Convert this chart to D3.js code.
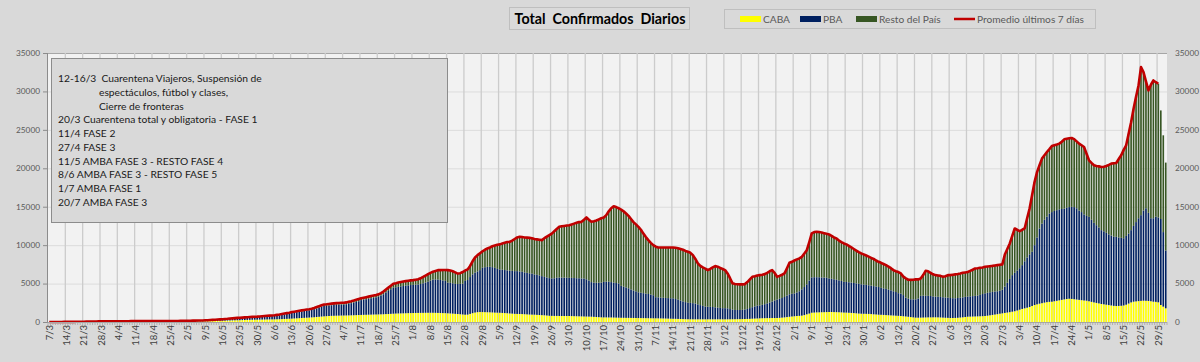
<!DOCTYPE html>
<html>
<head>
<meta charset="utf-8">
<script src="https://cdn.jsdelivr.net/npm/d3@7"></script>
<style>
  body { margin: 0; background: #d9d9d9; }
  svg { display: block; }
  text { font-family: Lato, "Open Sans", sans-serif; }
</style>
</head>
<body>
<div id="chart"></div>
<script>
// Casos diarios (promedio 7 días) desde el 7/3/2020, una semana por línea
var inicio = new Date(2020, 2, 7);

var caba = [
  1,1,2,2,3,4,5, 5,6,8,10,12,14,16, 18,20,22,25,27,30,32, 33,35,36,37,38,38,39,
  40,40,41,42,42,43,44, 44,44,45,45,46,46,47, 47,48,48,49,50,50,51, 52,54,56,58,60,63,66,
  70,74,78,82,86,90,95, 100,108,118,128,140,150,160, 170,180,190,200,210,220,230,
  240,250,260,270,280,290,300, 305,310,315,320,330,335,340, 345,355,365,380,395,410,425,
  440,460,480,500,520,540,560, 580,600,620,650,680,710,740, 760,780,800,810,820,830,840,
  845,850,860,870,880,895,910, 920,930,940,950,960,970,980, 990,1000,1010,1030,1040,1060,1080,
  1100,1110,1120,1130,1140,1150,1160, 1170,1175,1180,1185,1190,1195,1200,
  1200,1200,1190,1180,1170,1160,1150, 1130,1110,1090,1060,1040,1010,980,
  950,960,1050,1150,1230,1280,1300, 1290,1280,1270,1260,1240,1220,1210,
  1200,1180,1160,1140,1110,1090,1060, 1050,1040,1030,1010,990,970,960,
  950,930,910,890,870,840,810, 800,790,790,785,780,780,780,
  780,770,760,750,740,730,720, 710,700,690,670,650,630,610,
  600,600,590,590,580,570,560, 550,545,540,535,530,525,520,
  515,510,505,500,495,490,485, 480,475,470,460,450,440,430,
  420,410,400,390,380,370,360, 355,352,350,350,350,350,350,
  350,350,350,350,350,350,350, 350,350,355,360,365,370,375,
  380,390,400,410,430,450,460, 480,490,500,505,510,515,520,
  520,540,570,600,640,680,720, 750,780,800,830,900,1000,1100,
  1210,1230,1250,1260,1270,1280,1290, 1300,1300,1290,1280,1270,1250,1230,
  1220,1200,1180,1160,1130,1100,1080, 1070,1060,1050,1030,1000,980,950,
  940,920,900,880,860,840,820, 800,780,750,720,680,640,600,
  570,560,570,580,590,600,605, 610,610,600,590,570,550,540,
  520,520,530,550,580,610,650, 690,700,710,720,730,745,760,
  780,820,870,920,970,1020,1080, 1130,1180,1230,1280,1340,1400,1500,
  1600,1700,1780,1860,1950,2080,2210, 2300,2380,2450,2520,2580,2620,2640,
  2700,2760,2820,2880,2940,2990,3030, 3000,2960,2920,2880,2840,2800,2770,
  2700,2620,2550,2480,2420,2340,2300, 2250,2200,2150,2100,2080,2090,2110,
  2150,2250,2400,2550,2640,2680,2720, 2750,2770,2760,2740,2700,2640,2620,
  2560,2210,2000,1780
];

var pba = [
  1,1,1,2,2,3,3, 3,4,5,6,8,9,11, 12,14,16,18,20,22,24, 25,26,28,30,32,33,34,
  34,35,35,36,36,37,37, 37,37,38,38,38,39,39, 39,40,40,41,41,42,42, 43,45,47,49,52,55,58,
  60,62,64,66,68,70,72, 80,88,96,104,112,120,130, 150,165,180,200,215,230,250,
  260,270,280,290,300,310,320, 330,345,360,380,400,415,430, 460,490,520,560,600,640,680,
  740,770,800,830,860,890,920, 930,980,1050,1120,1200,1280,1340, 1340,1360,1380,1400,1410,1420,1430,
  1420,1460,1520,1580,1650,1720,1790, 1930,1980,2030,2080,2130,2180,2230, 2310,2440,2600,2800,3000,3200,3380,
  3420,3470,3510,3550,3590,3620,3650, 3660,3680,3700,3760,3850,3950,4050,
  4200,4320,4350,4340,4300,4250,4200, 4000,3980,3950,3900,3900,3950,4000,
  4400,4500,4800,5050,5200,5300,5450, 5760,5850,5900,5920,5900,5820,5700,
  5640,5620,5600,5580,5560,5560,5560, 5570,5540,5500,5450,5400,5370,5330,
  5240,5200,5150,5080,5000,4950,4900, 4870,4900,4960,5000,5000,4990,4980,
  4970,4970,4960,4950,4950,4940,4940, 4850,4700,4500,4450,4450,4480,4520,
  4620,4650,4650,4600,4550,4500,4450, 4150,4050,3960,3850,3700,3580,3470,
  3350,3300,3250,3200,3150,3080,3000, 2750,2730,2710,2690,2680,2670,2660,
  2660,2580,2500,2400,2300,2220,2150, 2130,2100,2050,1950,1850,1750,1660,
  1640,1620,1600,1560,1520,1480,1450, 1450,1430,1330,1250,1200,1190,1190,
  1210,1240,1300,1400,1500,1580,1660, 1680,1740,1820,1920,2030,2150,2280,
  2400,2480,2550,2650,2800,2920,2950, 2970,3070,3200,3420,3650,3900,4300,
  4590,4600,4580,4560,4530,4500,4460, 4370,4320,4270,4210,4150,4090,4000,
  3990,3970,3950,3920,3900,3870,3830, 3800,3770,3730,3700,3670,3640,3600,
  3500,3450,3400,3330,3260,3160,3080, 2950,2920,2750,2450,2350,2320,2340,
  2380,2500,2830,2850,2820,2800,2780, 2710,2690,2680,2670,2650,2640,2630,
  2600,2580,2560,2570,2580,2600,2620, 2620,2640,2660,2680,2700,2780,2880,
  2950,2980,3000,3000,2990,2980,2990, 3070,3420,3870,4320,4760,5000,5200,
  5400,5700,6120,6540,6850,7050,7790, 8700,9790,10350,10780,11120,11490,11660,
  11750,11790,11830,11820,11810,11860,11920, 11980,11990,11880,11620,11460,11200,11030,
  10980,10680,10350,10120,9880,9610,9500, 9350,9200,9100,9000,9000,8910,8840,
  8750,8950,9100,9400,9860,10320,10780, 11150,11730,12040,11460,10800,10860,11080,
  11040,11190,9700,7520
];

var resto = [
  0,0,1,1,1,1,2, 2,3,4,5,6,7,8, 10,12,14,16,18,20,22, 23,24,25,26,27,28,28,
  28,28,28,29,29,29,29, 29,29,28,28,28,27,27, 27,26,26,26,25,25,25, 25,26,27,28,29,30,31,
  30,31,32,33,34,35,36, 38,40,42,44,46,48,50, 45,45,45,48,50,52,55,
  55,55,58,60,62,65,68, 65,70,72,75,78,80,82, 80,85,90,95,100,105,110,
  110,115,120,125,130,135,140, 140,150,160,170,180,190,200, 200,205,210,215,220,225,230,
  235,240,250,260,270,285,300, 240,250,260,270,280,290,300, 300,320,350,390,430,470,520,
  530,550,570,580,590,600,610, 620,650,680,740,820,900,980,
  1000,1030,1110,1230,1280,1350,1410, 1620,1610,1560,1490,1360,1390,1520,
  1350,1380,1450,1700,1970,2120,2200, 2150,2270,2400,2520,2710,2910,3140,
  3260,3400,3540,3680,3760,3950,4180, 4380,4500,4520,4540,4590,4610,4610,
  4610,4620,4640,4680,5030,5310,5590, 5830,6110,6350,6595,6670,6730,6790,
  6850,6960,7080,7200,7310,7360,7640, 8040,7900,7860,7980,8100,8240,8370,
  8380,8650,9160,9610,9930,9880,9790, 9930,9805,9610,9415,9170,8895,8710,
  8515,8190,7745,7350,7005,6730,6515, 6570,6495,6520,6550,6570,6590,6610,
  6620,6660,6700,6710,6720,6660,6620, 6515,6248,5800,5320,5100,5000,4940,
  4760,4930,5150,5360,5330,5220,5100, 4950,4540,4015,3420,3385,3360,3335,
  3310,3300,3500,3740,3950,3920,3930, 3940,3920,3910,3975,4060,4085,3600,
  2960,2980,3030,3070,3560,4100,4160, 4280,4300,4270,4230,4350,4450,5000,
  5720,5870,5900,5880,5850,5780,5720, 5720,5580,5440,5380,5180,5060,4990,
  4890,4730,4570,4420,4270,4130,4010, 3930,3820,3720,3620,3530,3380,3280,
  3260,3180,3100,2990,2880,2750,2700, 2750,2620,2400,2500,2470,2520,2560,
  2600,2480,2270,2670,3250,3200,3015, 2880,2800,2770,2740,2660,2760,2930,
  2980,3050,3110,3130,3160,3190,3180, 3190,3310,3430,3570,3570,3525,3460,
  3450,3420,3390,3380,3390,3400,3380, 3300,4190,4400,4620,5100,5770,5300,
  4820,4600,4270,5100,5970,7370,8220, 8500,8230,8460,8400,8420,8390,8600,
  8550,8550,8560,8750,9020,9000,8950, 8960,8850,8700,8710,8700,8770,8100,
  7360,7400,7490,7700,7950,8220,8400, 8700,9050,9360,9550,9610,10200,10740,
  11500,11790,13000,14050,15250,16300,17280, 19260,18010,16500,15930,17370,17930,17500,
  17400,14130,12590,11440
];

// el promedio se publica hasta el 29/5
var diasPromedio = 449;

var yTicks = [0, 5000, 10000, 15000, 20000, 25000, 30000, 35000];

var series = ["caba", "pba", "resto"];
var nombres = ["CABA", "PBA", "Resto del País"];
var colores = ["#ffff00", "#002060", "#375623"];

var notas = [
  ["12-16/3  Cuarentena Viajeros, Suspensión de", 0],
  ["espectáculos, fútbol y clases,", 1],
  ["Cierre de fronteras", 1],
  ["20/3 Cuarentena total y obligatoria - FASE 1", 0],
  ["11/4 FASE 2", 0],
  ["27/4 FASE 3", 0],
  ["11/5 AMBA FASE 3 - RESTO FASE 4", 0],
  ["8/6 AMBA FASE 3 - RESTO FASE 5", 0],
  ["1/7 AMBA FASE 1", 0],
  ["20/7 AMBA FASE 3", 0]
];

var width = 1200, height = 362;
var xLeft = 48, xRight = 1167, yTop = 53, yBottom = 322;

var svg = d3.select("#chart").append("svg")
  .attr("width", width)
  .attr("height", height);

svg.append("rect").attr("width", width).attr("height", height).attr("fill", "#d9d9d9");

// tabla para d3.stack
var n = caba.length;
var tabla = d3.range(n).map(function(i) {
  return {i: i, fecha: d3.timeDay.offset(inicio, i), caba: caba[i], pba: pba[i], resto: resto[i]};
});

var x = d3.scaleBand()
  .domain(d3.range(n))
  .range([xLeft, xRight])
  .paddingInner(0.34)
  .paddingOuter(0.17);
var step = x.step();
function borde(i) { return x(i) - step * 0.17; }

var y = d3.scaleLinear().domain([0, 35000]).range([yBottom, yTop]);

// plot area
svg.append("rect")
  .attr("x", xLeft).attr("y", yTop)
  .attr("width", xRight - xLeft).attr("height", yBottom - yTop)
  .attr("fill", "#f2f2f2");

// horizontal grid
svg.append("g").selectAll("line")
  .data(yTicks.slice(1))
  .enter().append("line")
    .attr("x1", xLeft).attr("x2", xRight)
    .attr("y1", function(d) { return y(d) + 0.5; })
    .attr("y2", function(d) { return y(d) + 0.5; })
    .attr("stroke", function(d) { return d === 35000 ? "#a6a6a6" : "#dcdcdc"; })
    .attr("stroke-width", 1);

// vertical grid, one per week
var semanas = d3.range(0, n, 7);
svg.append("g").selectAll("line")
  .data(semanas.slice(1))
  .enter().append("line")
    .attr("x1", function(d) { return borde(d); })
    .attr("x2", function(d) { return borde(d); })
    .attr("y1", yTop).attr("y2", yBottom)
    .attr("stroke", "#cccccc")
    .attr("stroke-width", 1.3);

// stacked bars
var stack = d3.stack().keys(series)(tabla);
svg.append("g").selectAll("g")
  .data(stack)
  .enter().append("g")
    .attr("fill", function(d, k) { return colores[k]; })
  .selectAll("rect")
  .data(function(d) { return d; })
  .enter().append("rect")
    .attr("x", function(d) { return x(d.data.i); })
    .attr("width", x.bandwidth())
    .attr("y", function(d) { return y(d[1]); })
    .attr("height", function(d) { return Math.max(0, y(d[0]) - y(d[1])); });

// 7-day average line
var linea = d3.line()
  .x(function(d) { return x(d.i) + x.bandwidth() / 2; })
  .y(function(d) { return y(d.caba + d.pba + d.resto); });
svg.append("path")
  .datum(tabla.slice(0, diasPromedio))
  .attr("d", linea)
  .attr("fill", "none")
  .attr("stroke", "#c00000")
  .attr("stroke-width", 2.6)
  .attr("stroke-linejoin", "round");

// axes lines
svg.append("line")
  .attr("x1", xLeft - 0.5).attr("x2", xLeft - 0.5)
  .attr("y1", yTop).attr("y2", yBottom)
  .attr("stroke", "#8c8c8c");
svg.append("line")
  .attr("x1", xLeft).attr("x2", xRight)
  .attr("y1", yBottom + 0.5).attr("y2", yBottom + 0.5)
  .attr("stroke", "#a6a6a6");

// y ticks and labels, both sides
svg.append("g").selectAll("line")
  .data(yTicks)
  .enter().append("line")
    .attr("x1", xLeft - 5).attr("x2", xLeft)
    .attr("y1", function(d) { return y(d) + 0.5; })
    .attr("y2", function(d) { return y(d) + 0.5; })
    .attr("stroke", "#8c8c8c");

svg.append("g").selectAll("text")
  .data(yTicks)
  .enter().append("text")
    .attr("class", "ylab")
    .attr("x", 40)
    .attr("y", function(d) { return y(d); })
    .attr("dy", "0.35em")
    .attr("text-anchor", "end")
    .attr("fill", "#595959")
    .style("font-size", "9.5px")
    .text(function(d) { return d; });

svg.append("g").selectAll("text")
  .data(yTicks)
  .enter().append("text")
    .attr("class", "ylab")
    .attr("x", 1175)
    .attr("y", function(d) { return y(d); })
    .attr("dy", "0.35em")
    .attr("text-anchor", "start")
    .attr("fill", "#595959")
    .style("font-size", "9.5px")
    .text(function(d) { return d; });

// x ticks: small ones per day, labels per week
svg.append("g").selectAll("line")
  .data(d3.range(n + 1))
  .enter().append("line")
    .attr("x1", function(d) { return xLeft + d * step; })
    .attr("x2", function(d) { return xLeft + d * step; })
    .attr("y1", yBottom)
    .attr("y2", function(d) { return d % 7 === 0 ? yBottom + 5 : yBottom + 3; })
    .attr("stroke", "#a6a6a6")
    .attr("stroke-width", 0.8);

var fmt = d3.timeFormat("%-d/%-m");
svg.append("g").selectAll("text")
  .data(semanas)
  .enter().append("text")
    .attr("transform", function(d) {
      return "translate(" + (x(d) + x.bandwidth() / 2) + "," + (yBottom + 3) + ") rotate(-90)";
    })
    .attr("dy", "0.35em")
    .attr("text-anchor", "end")
    .attr("fill", "#404040")
    .style("font-size", "9.5px")
    .text(function(d) { return fmt(tabla[d].fecha); });

// title
svg.append("rect")
  .attr("x", 509.5).attr("y", 7.5).attr("width", 180).attr("height", 22)
  .attr("fill", "#dadada").attr("stroke", "#bfbfbf");
var titulo = svg.append("text")
  .attr("x", 600).attr("y", 24)
  .attr("text-anchor", "middle")
  .attr("font-weight", "bold")
  .attr("fill", "#000")
  .style("font-size", "16px")
  .attr("xml:space", "preserve")
  .style("white-space", "pre")
  .text("Total  Confirmados  Diarios");

// legend
svg.append("rect")
  .attr("x", 724.5).attr("y", 9.5).attr("width", 371).attr("height", 19)
  .attr("fill", "#d9d9d9").attr("stroke", "#bfbfbf");
var leyX = [740, 800, 856];
var leyenda = svg.append("g");
leyX.forEach(function(lx, k) {
  leyenda.append("rect")
    .attr("x", lx).attr("y", 16).attr("width", 21).attr("height", 6)
    .attr("fill", colores[k]);
  leyenda.append("text")
    .attr("class", "ley")
    .attr("x", lx + 23).attr("y", 19)
    .attr("dy", "0.35em")
    .attr("fill", "#595959")
    .style("font-size", "10.5px")
    .text(nombres[k]);
});
leyenda.append("line")
  .attr("x1", 954).attr("x2", 975).attr("y1", 19).attr("y2", 19)
  .attr("stroke", "#c00000").attr("stroke-width", 2.5);
var promTxt = leyenda.append("text")
  .attr("class", "ley")
  .attr("x", 977).attr("y", 19)
  .attr("dy", "0.35em")
  .attr("fill", "#595959")
  .style("font-size", "10.5px")
  .text("Promedio últimos 7 días");

// annotation box
svg.append("rect")
  .attr("x", 51.5).attr("y", 58.5).attr("width", 396).attr("height", 164)
  .attr("fill", "#d9d9d9").attr("stroke", "#8c8c8c");
svg.append("g").selectAll("text")
  .data(notas)
  .enter().append("text")
    .attr("class", "nota")
    .attr("x", function(d) { return d[1] ? 99 : 58; })
    .attr("y", function(d, i) { return 78.5 + i * 13.75; })
    .attr("dy", "0.35em")
    .attr("fill", "#1a1a1a")
    .style("font-size", "11px")
    .attr("xml:space", "preserve")
    .style("white-space", "pre")
    .text(function(d) { return d[0]; });

// scale the fonts so the texts take the same width as in the original
function ajustar(sel, ref, ancho) {
  var w = ref.node().getComputedTextLength();
  var fs = parseFloat(ref.style("font-size"));
  sel.style("font-size", (fs * ancho / w) + "px");
}
ajustar(titulo, titulo, 171);
ajustar(svg.selectAll(".nota"), svg.select(".nota"), 204);
ajustar(svg.selectAll(".ley"), promTxt, 107);
ajustar(svg.selectAll(".ylab"), svg.selectAll(".ylab").filter(function(d) { return d === 35000; }), 24);
</script>
</body>
</html>
